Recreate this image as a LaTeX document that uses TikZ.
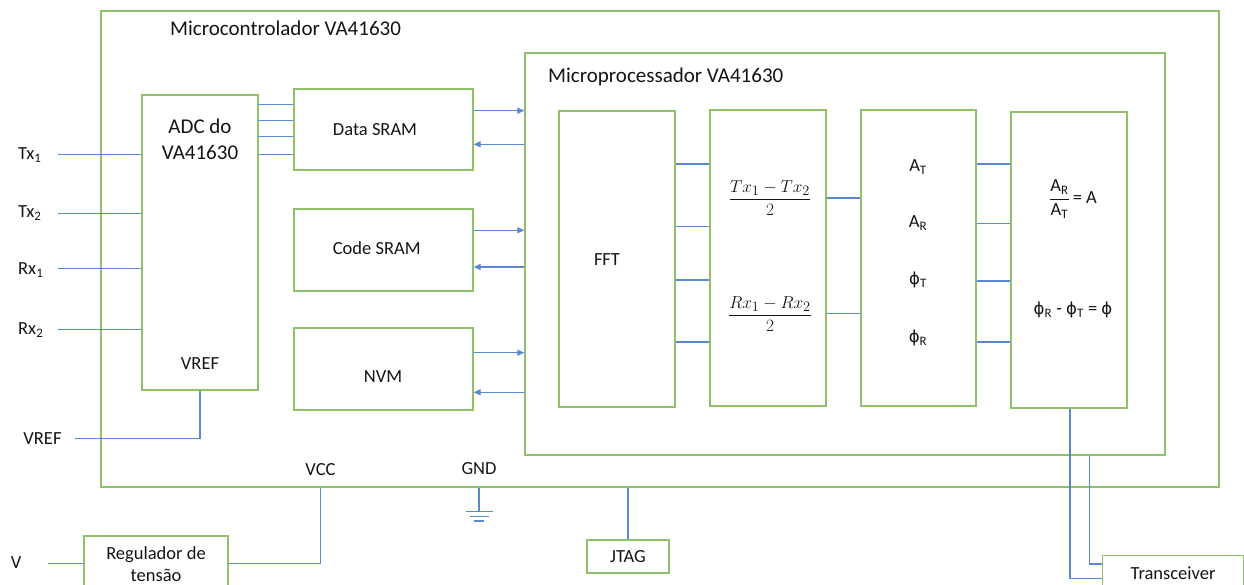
\documentclass[tikz,border=0pt]{standalone}
\usepackage{fontspec}
\setmainfont{Carlito}
\newfontfamily\phifont{DejaVu Sans}
\newcommand{\ph}{{\phifont\fontsize{16.5}{20}\selectfont ϕ}}
\usetikzlibrary{arrows.meta}
\definecolor{gbox}{RGB}{141,194,104}
\definecolor{bline}{RGB}{90,135,210}
\definecolor{ink}{RGB}{20,20,20}
\tikzset{
  blk/.style={draw=gbox, line width=1.3pt, inner sep=0pt},
  txt/.style={font=\fontsize{18.5}{22.3}\selectfont, text=ink, inner sep=0pt},
  ttl/.style={font=\fontsize{21}{25}\selectfont, text=ink, inner sep=0pt},
  mth/.style={font=\fontsize{19}{23}\selectfont, text=ink, inner sep=0pt},
  conn/.style={draw=bline, line width=1.1pt},
  arr/.style={conn, -{Triangle[length=7pt,width=6pt]}}
}
\begin{document}
\begin{tikzpicture}[x=1pt,y=-1pt]
\useasboundingbox (0,0) rectangle (1244,585);
\clip (0,0) rectangle (1244,585);
% boxes
\node[blk, minimum width=1118pt, minimum height=476pt] (mc) at (660,249) {};
\node[ttl, anchor=west] (mctitle) at (170,28) {Microcontrolador VA41630};
\node[blk, minimum width=640pt, minimum height=402pt] (mp) at (845,254) {};
\node[ttl, anchor=west] (mptitle) at (548,77) {Microprocessador VA41630};
\node[blk, minimum width=116pt, minimum height=295pt] (adc) at (200,242.5) {};
\node[ttl] (adct1) at (200,126) {ADC do};
\node[ttl] (adct2) at (200,152) {VA41630};
\node[txt] (adcvref) at (200,364) {VREF};
\node[blk, minimum width=179pt, minimum height=81pt] (dsram) at (383.5,129.5) {};
\node[txt] (dsramt) at (375,130) {Data SRAM};
\node[blk, minimum width=179pt, minimum height=82pt] (csram) at (383.5,250) {};
\node[txt] (csramt) at (376.7,248) {Code SRAM};
\node[blk, minimum width=179pt, minimum height=82pt] (nvm) at (383.5,369) {};
\node[txt] (nvmt) at (383,377) {NVM};
\node[blk, minimum width=116pt, minimum height=296pt] (fft) at (617,259) {};
\node[txt] (fftt) at (607,260) {FFT};
\node[blk, minimum width=116pt, minimum height=296pt] (b2) at (768,258) {};
\node[mth] (frtx) at (770,198) {$\displaystyle\frac{Tx_1 - Tx_2}{2}$};
\node[mth] (frrx) at (770,314) {$\displaystyle\frac{Rx_1 - Rx_2}{2}$};
\node[blk, minimum width=115pt, minimum height=296pt] (b3) at (918.5,258) {};
\node[txt] (at) at (918,167) {A\textsubscript{T}};
\node[txt] (ar) at (918,223) {A\textsubscript{R}};
\node[txt] (pt) at (918,280) {\ph\textsubscript{T}};
\node[txt] (pr) at (918,338) {\ph\textsubscript{R}};
\node[blk, minimum width=116pt, minimum height=296pt] (b4) at (1069,260) {};
\node[txt] (amp) at (1073,199) {$\displaystyle\frac{\mbox{A\textsubscript{R}}}{\mbox{A\textsubscript{T}}}$\,= A};
\node[txt] (phase) at (1073,310) {\ph\textsubscript{R} - \ph\textsubscript{T} = \ph};
% inputs
\node[txt, anchor=west] (tx1) at (18,155) {Tx\textsubscript{1}};
\node[txt, anchor=west] (tx2) at (18,213) {Tx\textsubscript{2}};
\node[txt, anchor=west] (rx1) at (18,270) {Rx\textsubscript{1}};
\node[txt, anchor=west] (rx2) at (18,330) {Rx\textsubscript{2}};
\coordinate (tx1s) at (58,154.7);
\coordinate (tx2s) at (58,213.3);
\coordinate (rx1s) at (58,268.3);
\coordinate (rx2s) at (58,329.3);
\foreach \c in {tx1s,tx2s,rx1s,rx2s}
  \draw[conn] (\c) -- (\c -| adc.west);
% ADC to Data SRAM
\foreach \yy in {104.7,120.7,136.7,154.7}
  \draw[conn] (adc.east |- 0,\yy) -- (dsram.west |- 0,\yy);
% memories <-> microprocessor
\draw[arr] (dsram.east |- 0,110.7) -- (mp.west |- 0,110.7);
\draw[arr] (mp.west |- 0,144.3) -- (dsram.east |- 0,144.3);
\draw[arr] (csram.east |- 0,230.3) -- (mp.west |- 0,230.3);
\draw[arr] (mp.west |- 0,267) -- (csram.east |- 0,267);
\draw[arr] (nvm.east |- 0,352.7) -- (mp.west |- 0,352.7);
\draw[arr] (mp.west |- 0,392.3) -- (nvm.east |- 0,392.3);
% processing chain
\foreach \yy in {164,226.3,280,342}
  \draw[conn] (fft.east |- 0,\yy) -- (b2.west |- 0,\yy);
\foreach \yy in {198,313.7}
  \draw[conn] (b2.east |- 0,\yy) -- (b3.west |- 0,\yy);
\foreach \yy in {164,223.3,281,342}
  \draw[conn] (b3.east |- 0,\yy) -- (b4.west |- 0,\yy);
% VREF
\node[txt] (vref) at (42.5,439) {VREF};
\coordinate (vrefs) at (75,438.7);
\draw[conn] (vrefs) -| (adc.south);
% supply
\node[blk, font=\fontsize{18.5}{22.3}\selectfont, text=ink, align=center, minimum width=144pt, minimum height=56pt] (reg) at (156,564) {Regulador de\\tensão};
\node[txt] (v) at (16,563) {V};
\coordinate (vs) at (48,563.3);
\draw[conn] (vs) -- (vs -| reg.west);
\draw[conn] (reg.east |- 0,563.3) -| (mc.south -| 320.5,0);
\node[txt] (vcc) at (320.5,470) {VCC};
% ground
\node[txt] (gndt) at (479,469) {GND};
\coordinate (gnd) at (479,511.7);
\draw[conn] (mc.south -| gnd) -- (gnd);
\draw[conn] (465.6,511.7) -- (493.3,511.7);
\draw[conn] (470,516.3) -- (489,516.3);
\draw[conn] (474,521) -- (484,521);
% JTAG
\node[blk, txt, minimum width=82pt, minimum height=33pt] (jtag) at (628,556.5) {JTAG};
\draw[conn] (mc.south -| jtag.north) -- (jtag.north);
% Transceiver
\node[blk, font=\fontsize{18.5}{22.3}\selectfont, text=ink, anchor=west, inner xsep=28pt, inner ysep=0pt, minimum height=34pt] (trans) at (1102,572.7) {Transceiver};
\draw[conn] (b4.south -| 1070,0) |- (trans.west |- 0,578.3);
\draw[conn] (mp.south -| 1089.7,0) |- (trans.west |- 0,564);
\end{tikzpicture}
\end{document}
